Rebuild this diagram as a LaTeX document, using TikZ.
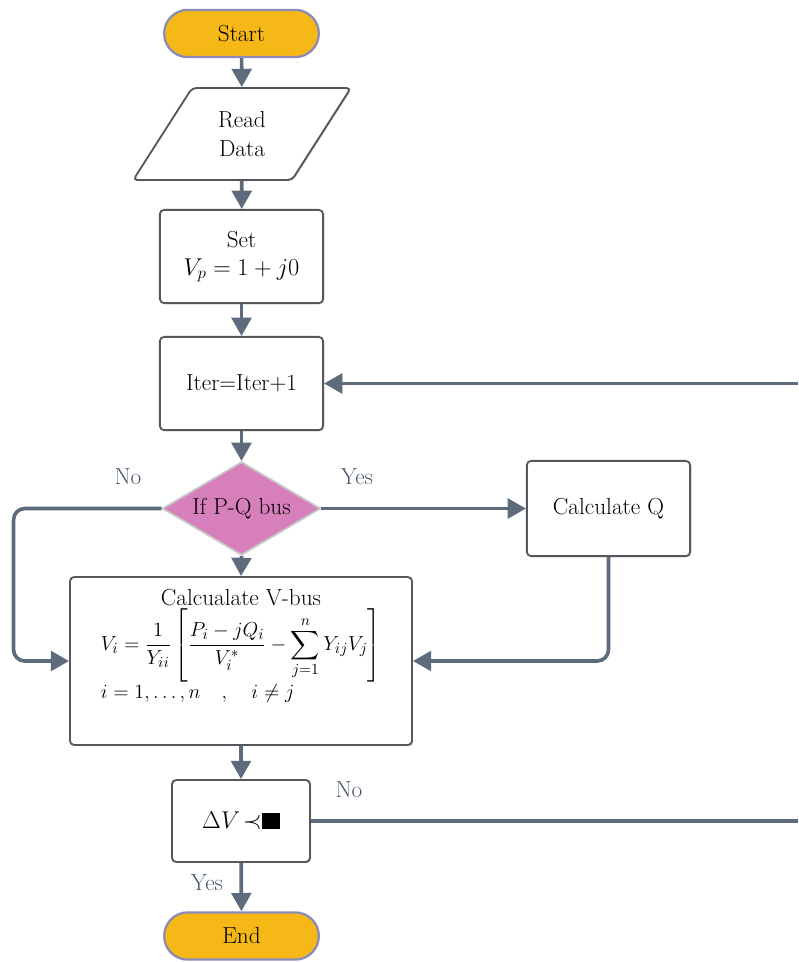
\documentclass[tikz,border=0pt]{standalone}
\usepackage{amsmath}
\usetikzlibrary{shapes.geometric, shapes.misc, arrows.meta, shadows}

\definecolor{flowline}{HTML}{5E6B7D}
\definecolor{termfill}{HTML}{F6B817}
\definecolor{decfill}{HTML}{D77FBB}
\definecolor{labelcol}{HTML}{46556A}
\definecolor{boxline}{HTML}{55575C}

\begin{document}
\begin{tikzpicture}[
    x=0.025cm, y=-0.025cm,
    txt/.style={font=\fontsize{16.5}{20}\selectfont, text=black, align=center},
    term/.style={txt,
        rounded rectangle, draw=boxline!70!blue!60, line width=1.6pt,
        fill=termfill, minimum width=4.1cm, minimum height=1.18cm
    },
    proc/.style={txt,
        rectangle, rounded corners=3pt, draw=boxline, line width=1.3pt,
        fill=white, inner sep=2pt,
        drop shadow={shadow xshift=0.8pt, shadow yshift=-0.8pt, opacity=0.35}
    },
    io/.style={txt,
        trapezium, trapezium left angle=58, trapezium right angle=122,
        trapezium stretches=true, rounded corners=3pt,
        draw=boxline, line width=1.3pt, fill=white,
        minimum width=5.45cm, minimum height=2.3cm,
        drop shadow={shadow xshift=0.8pt, shadow yshift=-0.8pt, opacity=0.35}
    },
    dec/.style={txt,
        diamond, aspect=1.69, inner sep=0pt, fill=decfill,
        draw=gray!45, line width=1.3pt,
        minimum width=3.95cm, minimum height=2.33cm
    },
    flow/.style={-{Triangle[length=13pt, width=14pt]}, line width=2.6pt, draw=flowline},
    link/.style={line width=2.6pt, draw=flowline},
    lbl/.style={font=\fontsize{16.5}{20}\selectfont, text=labelcol},
]
\useasboundingbox (0,0) rectangle (798,962);

% --- terminals ---
\node[term] (start) at (241.5, 33.5) {Start};
\node[term] (stop) at (241.5, 936) {End};

% --- input ---
\node[io] (read) at (242, 134) {Read\\Data};

% --- process boxes ---
\node[proc, minimum width=4.08cm, minimum height=2.33cm] (setv) at (241.5, 256.5)
    {Set\\$V_p = 1 + j0$};
\node[proc, minimum width=4.08cm, minimum height=2.33cm] (iter) at (241.5, 383.5)
    {Iter=Iter+1};
\node[proc, minimum width=4.08cm, minimum height=2.38cm] (calcq) at (608.5, 508.5)
    {Calculate Q};
\node[proc, minimum width=8.55cm, minimum height=4.2cm] (vbus) at (241, 661) {
    Calcualate V-bus\\[1pt]
    {\fontsize{15}{18}\selectfont
    $\displaystyle V_i=\frac{1}{Y_{ii}}\left[\frac{P_i-jQ_i}{V_i^{*}}-\sum_{j=1}^{n}Y_{ij}V_j\right]$}\\[1pt]
    \makebox[7cm][l]{{\fontsize{15}{18}\selectfont$i=1,\ldots,n\quad,\quad i\neq j$}}\rule[-0.85cm]{0pt}{0pt}
};
\node[proc, minimum width=3.45cm, minimum height=2.05cm] (dv) at (241, 821)
    {\fontsize{19}{22}\selectfont$\Delta V\!\prec$\rule{0.45cm}{0.4cm}};

% --- decision ---
\node[dec] (pq) at (241.5, 508.5) {If P-Q bus};

% --- branch labels ---
\node[lbl] (nopq) at (128, 477) {No};
\node[lbl] (yespq) at (357, 477) {Yes};
\node[lbl] (nodv) at (349, 790) {No};
\node[lbl] (yesdv) at (207, 883) {Yes};

% --- free ends at the right border ---
\coordinate (loopin) at (798, 383.5);
\coordinate (loopout) at (798, 821);

% --- connections ---
\draw[flow] (start) -- (read);
\draw[flow] (read) -- (setv);
\draw[flow] (setv) -- (iter);
\draw[flow] (iter) -- (pq);
\draw[flow] (loopin) -- (iter.east);
\draw[flow] (pq.east) -- (calcq.west);
\draw[flow] (pq.south) -- (vbus.north);
\draw[flow, rounded corners=8pt] (pq.west) -- ++(-148, 0) |- (vbus.west);
\draw[flow, rounded corners=8pt] (calcq.south) |- (vbus.east);
\draw[flow] (vbus) -- (dv);
\draw[link] (dv.east) -- (loopout);
\draw[flow] (dv) -- (stop);

\end{tikzpicture}
\end{document}
